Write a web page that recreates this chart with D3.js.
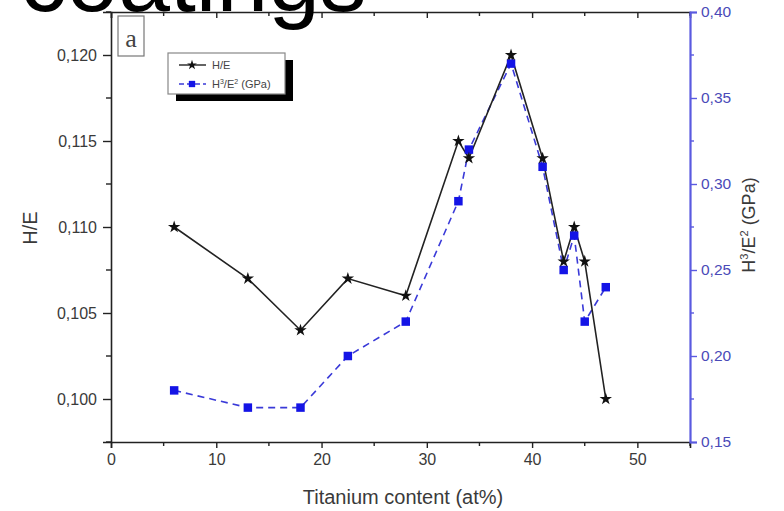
<!DOCTYPE html>
<html>
<head>
<meta charset="utf-8">
<script src="https://cdn.jsdelivr.net/npm/d3@7"></script>
<style>
  html, body { margin: 0; padding: 0; background: #fff; }
  svg { display: block; }
  text { font-family: "Liberation Sans", Arial, sans-serif; }
</style>
</head>
<body>
<svg id="chart" width="784" height="511"></svg>
<script>
// Titanium content (at%) of each coating
const titanium = [6, 13, 18, 22.5, 28, 33, 34, 38, 41, 43, 44, 45, 47];
// H/E ratio (left axis)
const hOverE = [0.110, 0.107, 0.104, 0.107, 0.106, 0.115, 0.114, 0.120, 0.114, 0.108, 0.110, 0.108, 0.100];
// H^3/E^2 in GPa (right axis)
const h3OverE2 = [0.18, 0.17, 0.17, 0.20, 0.22, 0.29, 0.32, 0.37, 0.31, 0.25, 0.27, 0.22, 0.24];

const xTicks = [0, 10, 20, 30, 40, 50];
const leftTicks = [0.100, 0.105, 0.110, 0.115, 0.120];
const rightTicks = [0.15, 0.20, 0.25, 0.30, 0.35, 0.40];

const svg = d3.select("#chart");
const L = 111, R = 690, T = 12, B = 442;

const x = d3.scaleLinear().domain([0, 55]).range([L, R]);
const yL = d3.scaleLinear().domain([0.0975, 0.1225]).range([B, T]);
const yR = d3.scaleLinear().domain([0.15, 0.40]).range([B, T]);

const comma = d => d3.format(".3f")(d).replace(".", ",");
const comma2 = d => d3.format(".2f")(d).replace(".", ",");

const axisColor = "#222";
const blueAxis = "#5a5ae0";
const labelColor = "#3a3a3a";

function styleAxis(g, color, textColor, size) {
  g.select(".domain").attr("stroke", color).attr("stroke-width", 1.6);
  g.selectAll(".tick line").attr("stroke", color).attr("stroke-width", 1.4);
  g.selectAll(".tick text").attr("fill", textColor).style("font-size", size + "px")
    .style("font-family", "'Liberation Sans', Arial, sans-serif");
}

// minor ticks
const xMinor = d3.range(5, 56, 10);
const leftMinor = d3.range(0.0975, 0.1226, 0.0025).filter(v => Math.abs((v * 1000) % 5) > 0.1 && Math.abs((v * 1000) % 5 - 5) > 0.1);
const rightMinor = [0.175, 0.225, 0.275, 0.325, 0.375];

// bottom axis
const gx = svg.append("g").attr("transform", `translate(0,${B})`)
  .call(d3.axisBottom(x).tickValues(xTicks).tickSize(6).tickPadding(6).tickFormat(d3.format("d")));
styleAxis(gx, axisColor, labelColor, 16);
gx.selectAll(".minor").data(xMinor).enter().append("line")
  .attr("x1", d => x(d)).attr("x2", d => x(d)).attr("y1", 0).attr("y2", 4)
  .attr("stroke", axisColor).attr("stroke-width", 1.4);

// top axis (ticks inward, no labels)
const gt = svg.append("g").attr("transform", `translate(0,${T})`)
  .call(d3.axisTop(x).tickValues(xTicks).tickSize(-6).tickFormat(""));
styleAxis(gt, axisColor, labelColor, 16);
gt.selectAll(".minor").data(xMinor).enter().append("line")
  .attr("x1", d => x(d)).attr("x2", d => x(d)).attr("y1", 0).attr("y2", 4)
  .attr("stroke", axisColor).attr("stroke-width", 1.4);

// left axis
const gl = svg.append("g").attr("transform", `translate(${L},0)`)
  .call(d3.axisLeft(yL).tickValues(leftTicks).tickSize(8).tickPadding(6).tickFormat(comma));
styleAxis(gl, axisColor, labelColor, 16);
gl.selectAll(".minor").data(leftMinor).enter().append("line")
  .attr("x1", -5).attr("x2", 0).attr("y1", d => yL(d)).attr("y2", d => yL(d))
  .attr("stroke", axisColor).attr("stroke-width", 1.4);

// right axis (blue)
const gr = svg.append("g").attr("transform", `translate(${R},0)`)
  .call(d3.axisRight(yR).tickValues(rightTicks).tickSize(7).tickPadding(4).tickFormat(comma2));
styleAxis(gr, blueAxis, "#4a4ab8", 15.5);
gr.select(".domain").attr("stroke-width", 2.2);
gr.selectAll(".minor").data(rightMinor).enter().append("line")
  .attr("x1", 0).attr("x2", 4).attr("y1", d => yR(d)).attr("y2", d => yR(d))
  .attr("stroke", blueAxis).attr("stroke-width", 1.4);

// axis titles
svg.append("text").attr("x", 403).attr("y", 504).attr("text-anchor", "middle")
  .attr("fill", labelColor).style("font-size", "20px").text("Titanium content (at%)");

svg.append("text").attr("transform", "translate(37,228) rotate(-90)").attr("text-anchor", "middle")
  .attr("fill", labelColor).style("font-size", "20px").text("H/E");

const rt = svg.append("text").attr("transform", "translate(755,225) rotate(-90)").attr("text-anchor", "middle")
  .attr("fill", labelColor).style("font-size", "18px");
rt.append("tspan").text("H");
rt.append("tspan").attr("dy", -7).style("font-size", "11px").text("3");
rt.append("tspan").attr("dy", 7).text("/E");
rt.append("tspan").attr("dy", -7).style("font-size", "11px").text("2");
rt.append("tspan").attr("dy", 7).text(" (GPa)");

// H^3/E^2 series: dashed blue line with squares
const lineR = d3.line().x((d, i) => x(titanium[i])).y(d => yR(d));
svg.append("path").datum(h3OverE2).attr("d", lineR)
  .attr("fill", "none").attr("stroke", "#3a3ad8").attr("stroke-width", 1.6)
  .attr("stroke-dasharray", "7,5");

// H/E series: solid black line with stars
const lineL = d3.line().x((d, i) => x(titanium[i])).y(d => yL(d));
svg.append("path").datum(hOverE).attr("d", lineL)
  .attr("fill", "none").attr("stroke", "#222").attr("stroke-width", 1.6);

svg.selectAll(".sq").data(h3OverE2).enter().append("path")
  .attr("transform", (d, i) => `translate(${x(titanium[i])},${yR(d)})`)
  .attr("d", d3.symbol().type(d3.symbolSquare).size(72))
  .attr("fill", "#1414e6");

svg.selectAll(".star").data(hOverE).enter().append("path")
  .attr("transform", (d, i) => `translate(${x(titanium[i])},${yL(d)})`)
  .attr("d", d3.symbol().type(d3.symbolStar).size(48))
  .attr("fill", "#111");

// panel label
svg.append("rect").attr("x", 118).attr("y", 16).attr("width", 26).attr("height", 40)
  .attr("fill", "#fff").attr("stroke", "#777").attr("stroke-width", 1.2);
svg.append("text").attr("x", 131).attr("y", 47).attr("text-anchor", "middle")
  .style("font-family", "'Liberation Serif', 'Times New Roman', serif").style("font-size", "26px")
  .attr("fill", "#444").text("a");

// legend with drop shadow
const lg = svg.append("g");
lg.append("rect").attr("x", 176).attr("y", 60).attr("width", 117).attr("height", 41).attr("fill", "#000");
lg.append("rect").attr("x", 168).attr("y", 53).attr("width", 117).attr("height", 41)
  .attr("fill", "#fff").attr("stroke", "#888").attr("stroke-width", 1.2);
lg.append("line").attr("x1", 179).attr("x2", 206).attr("y1", 65).attr("y2", 65)
  .attr("stroke", "#222").attr("stroke-width", 1.4);
lg.append("path").attr("transform", "translate(192,65)")
  .attr("d", d3.symbol().type(d3.symbolStar).size(30)).attr("fill", "#111");
lg.append("text").attr("x", 212).attr("y", 69).attr("fill", "#444").style("font-size", "11px").text("H/E");
lg.append("line").attr("x1", 179).attr("x2", 206).attr("y1", 84).attr("y2", 84)
  .attr("stroke", "#3a3ad8").attr("stroke-width", 1.4).attr("stroke-dasharray", "5,3");
lg.append("path").attr("transform", "translate(192,84)")
  .attr("d", d3.symbol().type(d3.symbolSquare).size(40)).attr("fill", "#1414e6");
const lt = lg.append("text").attr("x", 212).attr("y", 88).attr("fill", "#444").style("font-size", "11px");
lt.append("tspan").text("H");
lt.append("tspan").attr("dy", -4).style("font-size", "7px").text("3");
lt.append("tspan").attr("dy", 4).text("/E");
lt.append("tspan").attr("dy", -4).style("font-size", "7px").text("2");
lt.append("tspan").attr("dy", 4).text(" (GPa)");

// heading text, partly above the page edge
svg.append("text").attr("x", 20).attr("y", 11)
  .style("font-size", "93px").attr("fill", "#000").text("coatings");
</script>
</body>
</html>
